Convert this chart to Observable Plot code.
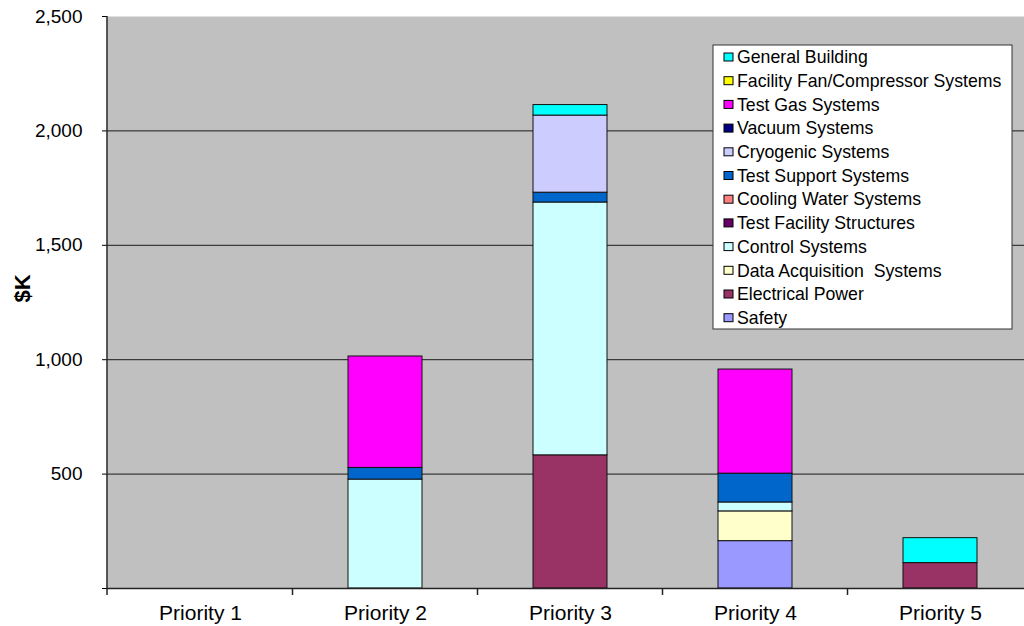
<!DOCTYPE html>
<html>
<head>
<meta charset="utf-8">
<script src="https://cdn.jsdelivr.net/npm/d3@7"></script>
<script src="https://cdn.jsdelivr.net/npm/@observablehq/plot@0.6"></script>
<style>
  html, body { margin: 0; padding: 0; background: #fff; overflow: hidden; }
  #chart { width: 1024px; height: 626px; }
</style>
</head>
<body>
<div id="chart"></div>
<script>
// Categories along the x axis
const categories = ["Priority 1", "Priority 2", "Priority 3", "Priority 4", "Priority 5"];

// Cost per system in $K, one value per priority (stacked bottom to top in this order)
const safety                 = [0, 0, 0, 207, 0];
const electricalPower        = [0, 0, 582, 0, 111];
const dataAcquisition        = [0, 0, 0, 130, 0];
const controlSystems         = [0, 476, 1105, 39, 0];
const testFacilityStructures = [0, 0, 0, 0, 0];
const coolingWater           = [0, 0, 0, 0, 0];
const testSupport            = [0, 51, 43, 126, 0];
const cryogenic              = [0, 0, 337, 0, 0];
const vacuum                 = [0, 0, 0, 0, 0];
const testGas                = [0, 487, 0, 455, 0];
const facilityFan            = [0, 0, 0, 0, 0];
const generalBuilding        = [0, 0, 46, 0, 109];

const seriesNames = [
  "Safety",
  "Electrical Power",
  "Data Acquisition  Systems",
  "Control Systems",
  "Test Facility Structures",
  "Cooling Water Systems",
  "Test Support Systems",
  "Cryogenic Systems",
  "Vacuum Systems",
  "Test Gas Systems",
  "Facility Fan/Compressor Systems",
  "General Building"
];
const seriesColors = [
  "#9999ff", "#993366", "#ffffcc", "#ccffff", "#660066", "#ff8080",
  "#0066cc", "#ccccff", "#000080", "#ff00ff", "#ffff00", "#00ffff"
];
const seriesValues = [
  safety, electricalPower, dataAcquisition, controlSystems, testFacilityStructures,
  coolingWater, testSupport, cryogenic, vacuum, testGas, facilityFan, generalBuilding
];

const yTicks = [0, 500, 1000, 1500, 2000, 2500];

// Long-format table for stacking; empty segments are skipped
const rows = [];
seriesNames.forEach((name, s) => {
  categories.forEach((cat, i) => {
    const v = seriesValues[s][i];
    if (v > 0) rows.push({series: name, category: cat, value: v});
  });
});

const font = "'Liberation Sans', Arial, Helvetica, sans-serif";

const chart = Plot.plot({
  width: 1024,
  height: 626,
  marginLeft: 107,
  marginRight: -9,
  marginTop: 16,
  marginBottom: 38,
  style: {background: "#fff", fontFamily: font, color: "#000", overflow: "hidden"},
  x: {domain: categories, paddingInner: 0.6, paddingOuter: 0.3, label: null},
  y: {domain: [0, 2500], label: null},
  color: {domain: seriesNames, range: seriesColors},
  marks: [
    Plot.frame({fill: "#c0c0c0", stroke: "none"}),
    Plot.ruleY(yTicks.slice(1, -1), {stroke: "#1a1a1a", strokeWidth: 1}),
    Plot.barY(rows, Plot.stackY({
      x: "category", y: "value", z: "series", fill: "series",
      stroke: "#111", strokeWidth: 1
    })),
    Plot.ruleY([0], {stroke: "#222", strokeWidth: 1.5}),
    Plot.axisY({
      ticks: yTicks, tickSize: 5, tickPadding: 20, fontSize: 19,
      tickFormat: d => d === 0 ? "" : d3.format(",")(d), label: null
    }),
    Plot.axisX({tickSize: 0, tickPadding: 17, fontSize: 21, label: null}),
    Plot.text(["$K"], {
      frameAnchor: "left", rotate: -90, dx: -85, dy: 0,
      fontWeight: "bold", fontSize: 22
    })
  ]
});

document.getElementById("chart").appendChild(chart);

// Value axis line and category separator ticks, placed from the scales
const svg = d3.select(chart);
const xs = chart.scale("x");
const ys = chart.scale("y");
const left = xs.range[0];
const yBase = ys.apply(0);
const yTop = ys.apply(2500);
const gap = (xs.step - xs.bandwidth) / 2;

svg.append("line")
  .attr("x1", left).attr("x2", left)
  .attr("y1", yTop).attr("y2", yBase + 7)
  .attr("stroke", "#222").attr("stroke-width", 1.5);

svg.append("g")
  .selectAll("line")
  .data(categories.slice(1))
  .join("line")
  .attr("x1", d => xs.apply(d) - gap)
  .attr("x2", d => xs.apply(d) - gap)
  .attr("y1", yBase)
  .attr("y2", yBase + 7)
  .attr("stroke", "#222")
  .attr("stroke-width", 1.5);

// Legend box inside the plot area, top entry = top of stack
const legendItems = seriesNames.map((n, i) => ({name: n, color: seriesColors[i]})).reverse();
const lg = svg.append("g")
  .attr("font-family", font)
  .attr("font-size", 17.7)
  .attr("text-anchor", "start");
lg.append("rect")
  .attr("x", 713).attr("y", 45)
  .attr("width", 299).attr("height", 284)
  .attr("fill", "#fff").attr("stroke", "#333").attr("stroke-width", 1);

const item = lg.selectAll("g.item")
  .data(legendItems)
  .join("g")
  .attr("class", "item")
  .attr("transform", (d, i) => `translate(724,${57 + i * 23.7})`);
item.append("rect")
  .attr("x", 0).attr("y", -4)
  .attr("width", 9).attr("height", 8)
  .attr("fill", d => d.color)
  .attr("stroke", "#000").attr("stroke-width", 1);
item.append("text")
  .attr("x", 13).attr("y", 0).attr("dy", "0.35em")
  .attr("text-anchor", "start")
  .attr("fill", "#000")
  .text(d => d.name);
</script>
</body>
</html>
